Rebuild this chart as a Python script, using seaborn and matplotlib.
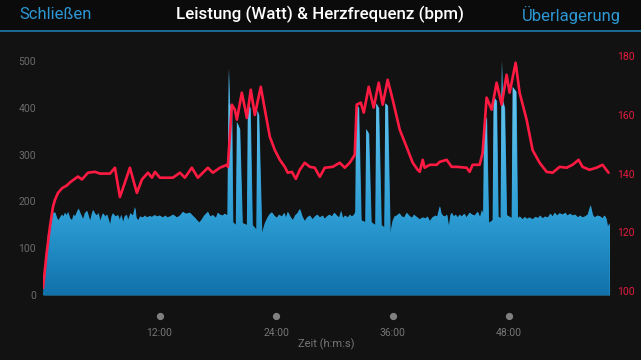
import matplotlib
matplotlib.use("Agg")
import numpy as np
import pandas as pd
import matplotlib.pyplot as plt
import seaborn as sns
from matplotlib.colors import LinearSegmentedColormap
from matplotlib.patches import Rectangle
from matplotlib.transforms import blended_transform_factory

# Power (Watt) over time (minutes)
power_min = [0.00, 0.31, 0.51, 0.79,
             1.03, 1.23, 1.44, 1.60, 1.75, 1.95, 2.10, 2.26, 2.45, 2.57, 2.75, 2.98, 3.15,
             3.29, 3.50, 3.65, 3.81, 3.95, 4.12, 4.30, 4.53, 4.70, 4.84, 5.00, 5.15, 5.35,
             5.56, 5.70, 5.87, 6.00, 6.17, 6.40, 6.60, 6.90, 7.05, 7.20, 7.45, 7.72, 7.90,
             8.05, 8.23, 8.40, 8.60, 8.75, 9.00, 9.26, 9.47, 9.60, 9.80, 10.00, 10.29,
             10.50, 10.70, 11.01, 11.20, 11.50, 11.73, 12.00, 12.35, 12.60, 12.80, 13.07,
             13.40, 13.79, 14.10, 14.41, 14.70, 15.13, 15.40, 15.65, 15.85, 16.10, 16.36,
             16.60, 16.98, 17.20, 17.50, 17.80, 18.00, 18.22, 18.50, 18.73, 18.94,
             18.99, 19.09, 19.14, 19.22, 19.45, 19.55, 19.86, 19.97, 20.27, 20.53, 21.00,
             21.10, 21.35, 21.56, 21.97, 22.07, 22.23, 22.54,
             22.85, 23.10, 23.30, 23.57, 23.80, 24.08, 24.30, 24.60, 24.85, 25.00, 25.21,
             25.45, 25.73, 25.95, 26.20, 26.45, 26.70, 26.96, 27.20, 27.48, 27.75, 28.00,
             28.25, 28.51, 28.80, 29.00, 29.23, 29.50, 29.75, 30.00, 30.26, 30.50, 30.70,
             30.87, 31.10, 31.40, 31.60, 31.80, 32.00, 32.16,
             32.26, 32.52, 32.77, 33.19, 33.29, 33.55, 33.80, 34.22, 34.32, 34.58, 34.84,
             35.15, 35.25, 35.50, 35.76,
             36.00, 36.20, 36.43, 36.70, 36.95, 37.20, 37.46, 37.70, 38.00, 38.20, 38.49,
             38.80, 39.10, 39.40, 39.60, 39.83, 40.10, 40.40, 40.60, 40.86, 41.00, 41.17,
             41.40, 41.60, 41.79, 41.95, 42.09, 42.30, 42.50, 42.70, 42.91, 43.10, 43.40,
             43.60, 43.94, 44.20, 44.45, 44.77, 45.00, 45.20, 45.33,
             45.43, 45.69, 45.90, 46.31, 46.41, 46.72, 46.88, 47.13, 47.21, 47.27, 47.32,
             47.55, 47.75, 48.27, 48.37, 48.73, 48.88,
             49.10, 49.40, 49.60, 49.85, 50.10, 50.43, 50.70, 51.00, 51.20, 51.46, 51.70,
             52.00, 52.25, 52.49, 52.70, 52.95, 53.20, 53.51, 53.80, 54.00, 54.30, 54.54,
             54.80, 55.10, 55.30, 55.57, 55.80, 56.10, 56.39, 56.60, 56.81, 57.10, 57.40,
             57.63, 57.80, 57.94, 58.05, 58.15, 58.35]
power_watt = [4, 81, 132, 145,
              175, 177, 164, 160, 166, 172, 168, 176, 170, 178, 165, 160, 172,
              168, 178, 185, 176, 170, 162, 175, 180, 168, 158, 172, 182, 174,
              170, 176, 158, 166, 175, 168, 172, 150, 168, 175, 168, 171, 160,
              172, 155, 168, 172, 160, 175, 170, 188, 165, 160, 168, 166,
              170, 166, 169, 167, 171, 168, 170, 166, 170, 166, 168,
              172, 166, 170, 178, 174, 176, 170, 165, 160, 155, 162,
              170, 178, 168, 171, 165, 176, 172, 170, 174, 171,
              171, 400, 485, 410, 395, 156, 150, 370, 355, 154, 150,
              410, 400, 150, 140, 395, 385, 132,
              154, 165, 172, 177, 170, 165, 172, 168, 176, 165, 178,
              168, 160, 170, 175, 184, 168, 158, 166, 170, 162, 168,
              172, 166, 170, 163, 168, 172, 168, 176, 170, 166, 180,
              164, 170, 166, 172, 168, 171, 177,
              410, 400, 160, 156, 355, 345, 156, 150, 410, 400, 150,
              145, 410, 405, 132,
              158, 168, 170, 175, 168, 166, 176, 170, 165, 172, 167,
              162, 166, 164, 168, 158, 166, 170, 168, 190, 175, 170,
              168, 172, 145, 170, 176, 168, 172, 166, 172, 168, 174,
              166, 176, 172, 170, 178, 166, 182, 171,
              370, 380, 154, 160, 425, 415, 167, 165, 420, 502, 420,
              400, 171, 165, 445, 435, 164,
              168, 162, 167, 163, 166, 162, 167, 165, 170, 164, 168,
              166, 174, 168, 176, 170, 175, 172, 176, 170, 174, 170,
              172, 166, 170, 166, 168, 172, 192, 172, 166, 170, 168,
              164, 170, 167, 160, 145, 154]

# Heart rate (bpm) over time (minutes)
hr_min = [0.00, 0.38, 0.72, 1.03, 1.23, 1.54, 1.96, 2.47, 2.78, 3.60, 4.01, 4.63, 5.35,
          5.87, 6.90, 7.41, 7.92, 8.44, 8.95, 9.67, 10.19, 10.81, 11.22, 11.53, 12.04,
          13.38, 14.10, 14.61, 15.33, 15.95, 16.98, 17.50, 18.22, 18.94, 19.04, 19.45,
          19.76, 19.97, 20.48, 21.00, 21.40, 21.82, 22.43, 22.85, 23.36, 23.88, 24.39,
          24.90, 25.21, 25.63, 26.04, 26.45, 26.96, 27.48, 27.99, 28.51, 29.02, 29.84,
          30.56, 31.08, 31.59, 32.11, 32.31, 32.73, 33.04, 33.55, 34.06, 34.58, 34.99,
          35.50, 36.02, 36.74, 37.46, 38.08, 38.59, 38.80, 39.11, 39.31, 39.83, 40.55,
          40.86, 41.58, 42.09, 42.61, 43.64, 43.94, 44.25, 44.97, 45.28, 45.69, 46.21,
          46.72, 47.24, 47.75, 48.06, 48.68, 49.09, 49.81, 50.43, 51.15, 51.87, 52.49,
          53.21, 53.93, 54.54, 55.16, 55.57, 56.29, 57.01, 57.63, 58.25]
hr_bpm = [101, 113, 122, 128.7, 131, 133.4, 135, 136, 137, 139, 138, 140.3, 140.6,
          140, 140, 142, 132, 137, 142, 133.4, 138, 140.3, 138.6, 140.6, 138.6,
          138.6, 140.3, 138.6, 142, 138.6, 142, 140.3, 142, 143, 142.3, 163.5,
          161.8, 158.4, 167.6, 159, 168.6, 160, 169.6, 161.8, 152.6, 148, 144.7,
          142.3, 140.3, 140.6, 138.2, 141.3, 143.7, 142.3, 142, 138.9, 142, 142.3,
          143.7, 142, 143.7, 146.4, 163.5, 164.2, 160.8, 169.6, 162.5, 171, 163.5,
          172, 165.2, 155, 149, 143.7, 141.3, 140.6, 144.7, 142, 143, 143,
          144, 144.7, 142.3, 142.3, 142, 140.6, 143, 143, 147, 165.9, 161.8,
          171, 163.5, 173.7, 167.6, 177.8, 167.6, 158.4, 148, 143.7, 140.6, 140.3,
          142.3, 142, 143, 144.7, 142.3, 141.3, 142, 143, 140.3]

x_ticks = [12, 24, 36, 48]
x_tick_labels = ["12:00", "24:00", "36:00", "48:00"]
watt_ticks = [0, 100, 200, 300, 400, 500]
bpm_ticks = [100, 120, 140, 160, 180]

sns.set_theme(style="dark")
plt.rcParams['font.family'] = ['Roboto', 'DejaVu Sans']

bg = "#131213"
fig = plt.figure(figsize=(6.41, 3.6), dpi=100, facecolor=bg)
ax = fig.add_axes([43 / 641, 65 / 360, 567 / 641, 239 / 360])
ax.set_facecolor(bg)

xmax = 58.4
ytop = 511

# gradient filled power area
power = pd.DataFrame({"min": power_min, "watt": power_watt})
poly = ax.fill_between(power["min"], power["watt"], color="#2596cf", linewidth=0, zorder=1)
cmap = LinearSegmentedColormap.from_list(
    "pw", [(0, "#1171aa"), (0.33, "#2d9dd4"), (1, "#78d2f7")])
grad = np.linspace(0, 1, 256).reshape(-1, 1)
im = ax.imshow(grad, extent=[0, xmax, 0, ytop], origin="lower", aspect="auto",
               cmap=cmap, zorder=2)
im.set_clip_path(poly.get_paths()[0], transform=ax.transData)

ax.set_xlim(0, xmax)
ax.set_ylim(0, ytop)
ax.set_yticks(watt_ticks)
ax.tick_params(axis="y", colors="#6b6b6b", labelsize=7.5, length=0, pad=5)
ax.set_xticks(x_ticks)
ax.set_xticklabels(x_tick_labels)
ax.tick_params(axis="x", colors="#767676", labelsize=7.5, length=0, pad=24)
ax.set_xlabel("Zeit (h:m:s)", color="#767676", fontsize=8)
ax.xaxis.set_label_coords(0.5, -0.18)
ax.set_ylabel("")
ax.grid(False)

# dots above the time labels
trans = blended_transform_factory(ax.transData, ax.transAxes)
ax.plot(x_ticks, [-0.088] * len(x_ticks), "o", color="#808080", markersize=4.2,
        transform=trans, clip_on=False)

# heart rate line
ax2 = ax.twinx()
hr = pd.DataFrame({"min": hr_min, "bpm": hr_bpm})
sns.lineplot(data=hr, x="min", y="bpm", ax=ax2, color="#ff1a42", linewidth=1.9,
             estimator=None, sort=False)
ax2.set_ylim(98.6, 180.1)
ax2.set_xlim(0, xmax)
ax2.set_yticks(bpm_ticks)
ax2.tick_params(axis="y", colors="#e31c3e", labelsize=7.5, length=0, pad=5.5)
ax2.set_ylabel("")
ax2.set_xlabel("")
ax2.grid(False)

for a in (ax, ax2):
    for s in a.spines.values():
        s.set_visible(False)

# top bar
fig.patches.append(Rectangle((0, 330 / 360), 1, 30 / 360, transform=fig.transFigure,
                             facecolor="#0b0b0b", edgecolor="none", zorder=0))
fig.patches.append(Rectangle((0, 328 / 360), 1, 2.2 / 360, transform=fig.transFigure,
                             facecolor="#1b6893", edgecolor="none", zorder=1))
fig.text(19 / 641, 1 - 14.5 / 360, "Schließen", color="#2c97d3", fontsize=12,
         ha="left", va="center")
fig.text(320 / 641, 1 - 14.5 / 360, "Leistung (Watt) & Herzfrequenz (bpm)",
         color="white", fontsize=12.2, fontweight="medium", ha="center", va="center")
fig.text(621 / 641, 1 - 14.5 / 360, "Überlagerung", color="#2c97d3", fontsize=12,
         ha="right", va="center")

fig.savefig("out.png", dpi=100, facecolor=bg)
